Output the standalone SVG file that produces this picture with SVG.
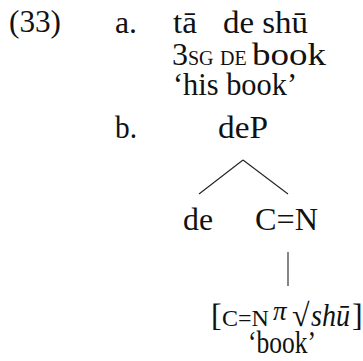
<svg xmlns="http://www.w3.org/2000/svg" width="363" height="361" viewBox="0 0 363 361">
<style>
text{font-family:"Liberation Serif","Times New Roman",serif;font-size:32px;fill:#111}
.sc{font-size:20px}
.it{font-style:italic}
.ln{stroke:#222;stroke-width:1.1;fill:none}
</style>
<rect width="363" height="361" fill="#fff"/>
<g id="ex-num"><text x="9" y="32" textLength="52" lengthAdjust="spacingAndGlyphs">(33)</text></g>
<g id="ex-a">
<text x="115" y="33" textLength="22" lengthAdjust="spacingAndGlyphs">a.</text>
<text x="173" y="33" textLength="24" lengthAdjust="spacingAndGlyphs">tā</text>
<text x="223" y="33" textLength="85" lengthAdjust="spacingAndGlyphs">de shū</text>
<text y="65"><tspan x="172">3</tspan><tspan class="sc" x="188">SG</tspan><tspan class="sc" x="220">DE</tspan><tspan x="252" textLength="74" lengthAdjust="spacingAndGlyphs">book</tspan></text>
<text x="173" y="95" textLength="124" lengthAdjust="spacingAndGlyphs">‘his book’</text>
</g>
<g id="ex-b"><text x="115" y="138" textLength="22" lengthAdjust="spacingAndGlyphs">b.</text></g>
<g id="deP"><text x="218" y="138" textLength="50" lengthAdjust="spacingAndGlyphs">deP</text></g>
<g id="de"><text x="183" y="230" textLength="30" lengthAdjust="spacingAndGlyphs">de</text></g>
<g id="CN"><text x="255" y="230" textLength="63" lengthAdjust="spacingAndGlyphs">C=N</text></g>
<g id="leaf">
<text y="326"><tspan x="211">[</tspan><tspan x="222" font-size="24">C=N</tspan><tspan class="it" x="273" y="320" font-size="27">π</tspan><tspan x="292" y="326">√</tspan><tspan class="it" x="311" textLength="39" lengthAdjust="spacingAndGlyphs">shū</tspan><tspan x="352">]</tspan></text>
<text x="248" y="353" textLength="68" lengthAdjust="spacingAndGlyphs">‘book’</text>
</g>
<g id="connectors">
<line class="ln" x1="243" y1="160" x2="199" y2="194"/>
<line class="ln" x1="243" y1="160" x2="288" y2="194"/>
<line class="ln" x1="288" y1="252" x2="288" y2="286"/>
</g>
</svg>
